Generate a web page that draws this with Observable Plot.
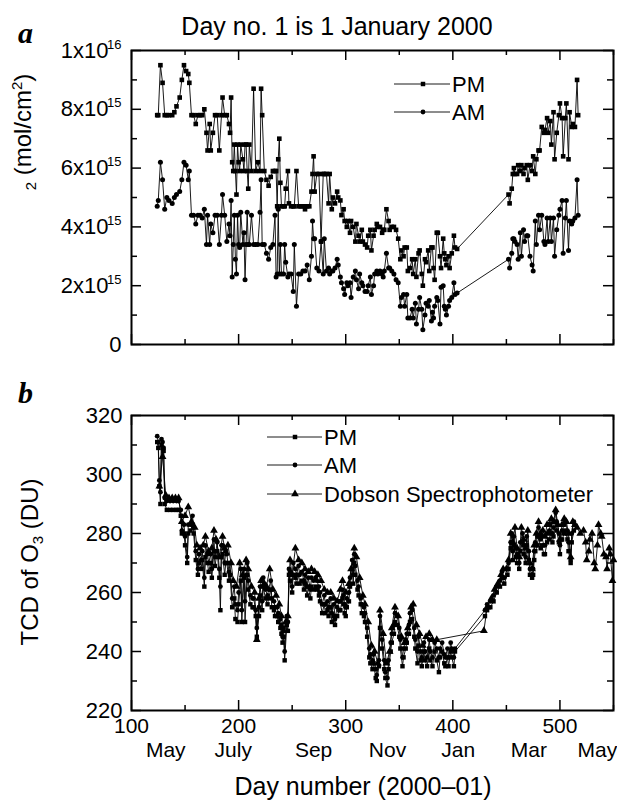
<!DOCTYPE html>
<html><head><meta charset="utf-8">
<script src="https://cdn.jsdelivr.net/npm/d3@7"></script>
<script src="https://cdn.jsdelivr.net/npm/@observablehq/plot@0.6"></script>
<style>
html,body{margin:0;padding:0;background:#fff;}
#chart{position:relative;width:617px;height:800px;overflow:hidden;background:#fff;}
#chart svg{position:absolute;left:0;}
</style></head>
<body><div id="chart"></div>
<script>
// ---------- Panel a: NO2 (units of 1e15 mol/cm2) ----------
const no2Days = [
124,125,127,129,131,133,135,138,140,142,
145,147,149,151,153,154,156,158,160,162,
164,166,168,170,171,173,174,176,178,180,
182,184,185,187,189,191,192,193,194,195,
196,197,198,199,200,201,202,204,205,206,
207,208,209,210,212,214,216,218,220,221,
222,224,226,228,230,232,234,235,236,237,
238,239,240,242,243,244,246,247,249,251,
252,254,256,258,260,262,264,266,268,269,
270,271,273,275,277,279,280,282,284,285,
287,288,290,292,293,295,296,298,299,301,
302,304,305,307,309,310,312,313,315,316,
318,320,321,323,324,326,327,329,330,332,
334,335,336,338,340,341,343,345,347,349,
351,352,354,355,357,358,360,362,363,365,
366,368,369,371,372,374,375,377,378,380,
381,382,383,385,386,388,389,391,392,393,
394,396,397,399,401,402,404,452,453,455,
456,457,458,460,461,463,464,466,467,469,
470,472,474,475,477,478,480,481,483,485,
486,488,489,491,492,494,495,497,499,500,
502,503,505,506,508,509,511,512,514,516,
517];
const no2PM = [
7.8,7.8,9.5,8.9,7.8,7.8,7.8,7.8,7.9,8.1,
8.4,9.0,9.5,9.3,9.2,8.9,7.8,7.8,7.5,7.8,
7.8,7.8,8.0,7.2,6.6,7.5,6.6,7.2,7.8,7.8,
6.6,7.8,8.4,7.8,7.8,7.5,7.2,8.4,6.2,5.9,
6.8,5.9,5.1,6.8,6.2,5.9,6.8,6.3,5.9,6.8,
6.8,5.9,5.3,6.8,5.9,8.7,5.9,6.2,5.9,8.7,
7.8,5.9,5.6,5.4,5.7,5.9,5.9,5.9,4.7,6.3,
7.0,5.5,4.7,4.7,4.7,5.3,5.9,4.8,4.7,4.7,
4.7,5.9,4.7,4.7,4.7,4.6,4.7,4.7,5.2,5.8,
6.4,5.2,5.8,5.8,3.5,5.8,5.8,5.8,4.8,5.8,
4.6,5.0,4.8,5.2,5.0,4.9,4.4,4.6,4.2,4.0,
4.2,3.8,4.2,4.0,3.5,4.1,3.7,3.5,3.9,3.5,
3.4,3.3,3.7,3.9,3.2,3.7,3.9,4.1,4.0,4.0,
3.8,3.9,3.9,4.6,4.2,3.9,4.0,4.0,3.9,3.6,
2.9,3.2,3.0,3.3,3.3,2.5,2.6,2.9,2.4,2.9,
2.3,3.1,3.2,2.4,2.0,2.9,2.8,3.2,2.5,3.3,
3.3,2.6,2.2,3.8,3.8,3.0,2.6,3.6,3.1,2.9,
2.7,3.0,2.6,3.1,3.7,3.3,3.25,5.1,4.8,5.3,
5.8,6.0,5.8,5.8,6.1,5.9,6.1,5.8,6.0,6.1,
5.6,6.1,5.9,6.4,5.8,6.3,6.6,6.6,7.4,7.2,
7.3,7.7,7.2,7.6,6.8,7.9,6.3,7.2,7.8,8.2,
7.7,6.4,7.7,8.2,6.3,7.9,7.4,7.5,7.4,9.0,
7.8];
const no2AM = [
4.7,4.9,6.2,5.6,4.6,5.0,4.9,4.8,5.0,5.1,
5.2,5.6,6.2,6.1,5.6,5.9,4.4,4.4,4.1,4.4,
4.4,4.3,4.6,3.4,4.4,3.4,4.1,3.8,4.4,4.4,
3.4,4.4,5.1,4.4,3.5,4.1,3.7,4.9,2.3,3.4,
4.4,2.9,2.4,4.4,3.4,3.3,4.5,3.4,3.8,2.2,
3.4,4.5,3.4,3.4,4.4,3.4,3.4,3.4,4.5,5.6,
3.4,3.4,3.1,2.9,3.3,3.4,4.4,2.3,2.4,4.6,
2.4,3.4,2.4,2.4,3.4,2.8,2.3,2.4,2.4,1.8,
3.4,1.3,2.4,2.4,2.5,2.5,2.7,2.2,3.0,4.2,
3.6,3.6,2.6,2.5,3.5,2.4,3.6,2.5,2.6,2.4,
2.5,2.5,2.6,2.9,2.7,2.3,2.1,1.9,1.7,2.1,
2.0,2.1,1.6,2.3,2.5,2.2,1.9,2.4,2.1,2.0,
1.8,1.8,2.0,2.3,1.7,2.0,2.4,2.5,2.4,2.5,
2.4,2.3,2.5,3.1,2.6,2.6,2.5,2.4,2.2,2.1,
1.3,1.6,1.7,1.3,1.7,0.9,0.9,1.2,0.9,1.4,
0.7,1.2,1.6,1.2,0.5,1.0,1.4,1.3,1.5,0.8,
1.1,0.9,1.3,1.6,1.5,0.7,1.95,2.0,1.3,1.2,
1.0,1.3,1.5,1.6,2.1,1.7,1.75,2.9,2.6,3.1,
3.6,3.6,3.5,3.4,2.9,3.8,3.0,3.9,3.5,3.7,
3.7,3.0,2.7,2.5,4.2,3.4,4.4,3.9,4.4,3.5,
3.4,4.3,3.5,4.3,3.5,4.3,3.0,3.9,4.4,4.6,
4.9,3.1,4.3,4.9,3.2,4.2,4.1,4.2,4.3,5.6,
4.4];

// ---------- Panel b: total column O3 (DU) ----------
const o3Days = [
124,125,126,127,128,129,130,131,133,136,
139,142,144,146,147,149,150,152,153,155,
157,158,160,162,163,165,166,168,169,171,
172,174,175,177,178,180,182,183,184,185,
187,188,189,191,192,194,196,197,199,200,
202,203,205,206,208,209,211,213,214,216,
217,219,220,222,223,225,227,228,230,231,
233,234,236,237,239,240,241,242,243,245,
246,247,248,250,251,253,254,256,257,259,
261,262,264,265,267,268,270,272,273,275,
276,278,280,281,283,284,286,287,289,290,
292,294,295,297,298,299,300,301,303,304,
306,307,308,309,311,312,314,315,317,318,
320,322,323,325,326,328,329,331,332,334,
336,337,339,340,342,343,345,346,348,350,
351,353,354,356,357,359,360,362,364,365,
367,368,370,371,373,374,376,378,379,381,
383,385,387,388,390,392,393,395,396,398,
399,401,402,430,432,435,438,441,444,446,
448,451,452,454,455,456,457,459,460,462,
463,465,466,468,469,471,472,474,475,476,
477,479,480,482,483,485,486,488,490,491,
493,494,496,497,499,500,502,504,505,507,
508,510,511,513];
const o3AM = [
313,311,298,294,312,311,309,292,291,291,
291,291,291,288,281,283,279,272,283,283,
286,282,274,268,273,271,274,265,276,273,
270,273,268,278,272,277,268,262,276,276,
270,274,273,267,270,258,262,256,254,260,
268,254,268,257,270,264,259,258,258,254,
248,255,262,257,265,261,259,261,264,258,
257,255,255,253,251,249,245,248,240,252,
250,268,267,262,270,268,266,269,266,267,
264,266,262,265,261,265,264,265,264,262,
260,256,259,256,257,255,258,253,256,251,
255,257,257,261,259,256,255,258,260,265,
271,266,273,269,264,262,258,256,255,253,
248,241,239,237,239,234,232,237,252,244,
237,233,231,237,243,246,249,253,252,248,
244,238,241,244,246,249,253,254,248,244,
240,245,240,238,243,240,238,244,240,238,
243,241,238,241,243,239,238,241,238,243,
241,238,241,254,256,257,259,262,264,267,
265,268,270,277,280,274,279,275,273,270,
277,280,276,272,279,274,268,266,268,274,
277,279,282,278,279,276,276,280,281,283,
280,282,287,284,280,276,281,283,284,281,
277,271,280,284];
const o3PM = [
311,309,296,290,310,309,308,290,288,288,
288,288,288,286,280,280,276,270,280,281,
283,280,271,266,270,268,271,262,272,270,
267,270,265,274,269,274,265,254,272,273,
266,270,270,264,266,255,258,251,250,256,
264,250,265,250,266,261,256,255,255,252,
245,252,259,254,262,258,256,258,261,255,
254,252,252,250,248,246,243,245,237,249,
247,266,264,260,266,265,263,266,263,264,
261,263,259,262,258,262,261,262,261,259,
257,253,256,253,254,252,255,250,252,249,
252,254,254,258,256,253,252,255,257,262,
268,263,270,266,261,259,256,253,252,250,
245,238,236,234,236,231,230,235,248,241,
234,231,228.5,234,240,243,246,250,249,245,
241,235,238,241,243,246,250,251,245,241,
236,242,237,235,240,237,235,241,237,235,
240,237,233,238,240,236,235,238,235,240,
238,235,240,252,254,255,257,260,262,265,
263,266,268,275,277,271,276,272,270,268,
274,277,273,270,276,271,266,265,266,271,
274,276,279,275,276,273,273,277,278,280,
277,279,284,281,277,273,278,280,281,278,
274,270,277,281];
const dobsonDays = [
126,129,132,135,138,141,144,147,150,153,
156,159,161,164,167,169,172,175,177,179,
182,185,187,190,193,195,198,201,204,207,
209,212,215,217,219,221,224,226,229,232,
235,238,240,242,244,246,248,250,253,256,
259,262,265,268,271,274,277,280,283,286,
289,292,295,297,300,303,305,308,310,313,
316,318,321,324,327,330,332,335,338,341,
343,346,349,352,355,358,361,363,366,369,
372,375,378,381,385,429,432,436,439,442,
445,447,450,452,454,456,458,460,462,464,
466,468,470,472,474,476,478,480,482,484,
486,488,490,492,494,496,498,500,502,504,
506,508,510,512,514,516,519,522,524,525,
527,528,530,532,533,535,536,538,539,541,
543,544,546,547,549,550];
const dobsonO3 = [
296,306,293,292,292,292,292,284,286,289,
284,282,276,275,276,279,274,275,281,278,
272,279,275,276,270,264,262,270,266,271,
268,262,260,244,258,264,263,262,268,261,
259,256,252,247,250,252,271,266,275,271,
270,268,267,268,267,266,264,261,260,260,
258,257,261,264,260,263,268,275,272,265,
259,256,250,242,240,236,254,246,236,240,
248,255,252,245,243,248,255,256,249,246,
242,245,246,244,244,247,255,258,261,263,
266,268,268,271,280,277,282,275,272,282,
278,275,281,270,268,276,280,284,280,281,
279,283,283,285,284,288,283,278,283,285,
284,280,272,284,283,282,280,281,277,271,
274,278,280,270,268,276,283,280,279,273,
272,268,275,273,264,271];

// ---------- ticks and labels ----------
const xMajorTicks = [100, 200, 300, 400, 500];
const xMinorTicks = [150, 250, 350, 450, 550];
const xTickLabels = ["100", "200", "300", "400", "500"];
const monthNames = ["May", "July", "Sep", "Nov", "Jan", "Mar", "May"];
const monthLabelDays = [132, 195, 270, 339, 405, 471, 535];
const no2MajorTicks = [0, 2, 4, 6, 8, 10];
const no2MinorTicks = [1, 3, 5, 7, 9];
const no2TickBases = ["0", "2x10", "4x10", "6x10", "8x10", "1x10"];
const no2TickExps = ["", "15", "15", "15", "15", "16"];
const o3MajorTicks = [220, 240, 260, 280, 300, 320];
const o3MinorTicks = [230, 250, 270, 290, 310];
const legendTop = ["PM", "AM"];
const legendBottom = ["PM", "AM", "Dobson Spectrophotometer"];

// ---------- build ----------
const FONT = '"Liberation Sans", Arial, Helvetica, sans-serif';
const W = 617, ML = 131, MR = 4;
const innerW = W - ML - MR;
const toRows = (days, vals) => days.map((d, i) => ({day: d, v: vals[i]}));

function frameTicks(yMaj, yMin, innerH) {
  const o = {stroke: "black", strokeWidth: 1.5};
  return [
    Plot.tickX(xMajorTicks, {...o, x: d => d, insetTop: innerH - 10}),
    Plot.tickX(xMajorTicks, {...o, x: d => d, insetBottom: innerH - 10}),
    Plot.tickX(xMinorTicks, {...o, x: d => d, insetTop: innerH - 5}),
    Plot.tickX(xMinorTicks, {...o, x: d => d, insetBottom: innerH - 5}),
    Plot.tickY(yMaj, {...o, y: d => d, insetRight: innerW - 10}),
    Plot.tickY(yMaj, {...o, y: d => d, insetLeft: innerW - 10}),
    Plot.tickY(yMin, {...o, y: d => d, insetRight: innerW - 6}),
    Plot.tickY(yMin, {...o, y: d => d, insetLeft: innerW - 6})
  ];
}

const pmTop = toRows(no2Days, no2PM);
const amTop = toRows(no2Days, no2AM);
const no2Ticks = no2MajorTicks.map((v, i) => ({v, base: no2TickBases[i], exp: no2TickExps[i]}));

const topH = 360, topMT = 50, topMB = 16;
const topSvg = Plot.plot({
  width: W, height: topH, marginTop: topMT, marginBottom: topMB, marginLeft: ML, marginRight: MR,
  x: {domain: [100, 550], axis: null},
  y: {domain: [0, 10], axis: null},
  style: {fontFamily: FONT, background: "white", color: "black", overflow: "visible"},
  marks: [
    Plot.line(pmTop, {x: "day", y: "v", stroke: "black", strokeWidth: 0.9}),
    Plot.line(amTop, {x: "day", y: "v", stroke: "black", strokeWidth: 0.9}),
    Plot.dot(pmTop, {x: "day", y: "v", symbol: "square", r: 2.6, fill: "black"}),
    Plot.dot(amTop, {x: "day", y: "v", symbol: "circle", r: 2.5, fill: "black"}),
    ...frameTicks(no2MajorTicks, no2MinorTicks, topH - topMT - topMB),
    Plot.frame({stroke: "black", strokeWidth: 2}),
    Plot.text(no2Ticks.filter(d => d.exp === ""), {y: "v", text: "base", frameAnchor: "left", textAnchor: "end", dx: -10, fontSize: 22, fill: "black"}),
    Plot.text(no2Ticks.filter(d => d.exp !== ""), {y: "v", text: "base", frameAnchor: "left", textAnchor: "end", dx: -23, fontSize: 22, fill: "black"}),
    Plot.text(no2Ticks.filter(d => d.exp !== ""), {y: "v", text: "exp", frameAnchor: "left", textAnchor: "end", dx: -10, dy: -6, fontSize: 13, fill: "black"})
  ]
});
topSvg.style.top = "0px";

const pmBot = toRows(o3Days, o3PM);
const amBot = toRows(o3Days, o3AM);
const dobBot = toRows(dobsonDays, dobsonO3);
const xLabels = xMajorTicks.map((d, i) => ({d, t: xTickLabels[i]}));
const months = monthNames.map((m, i) => ({d: monthLabelDays[i], m}));

const botTop = 360, botH = 440, botMT = 55, botMB = 90;
const botSvg = Plot.plot({
  width: W, height: botH, marginTop: botMT, marginBottom: botMB, marginLeft: ML, marginRight: MR,
  x: {domain: [100, 550], axis: null},
  y: {domain: [220, 320], axis: null},
  style: {fontFamily: FONT, background: "white", color: "black", overflow: "visible"},
  marks: [
    Plot.line(dobBot, {x: "day", y: "v", stroke: "black", strokeWidth: 0.9}),
    Plot.line(amBot, {x: "day", y: "v", stroke: "black", strokeWidth: 0.9}),
    Plot.line(pmBot, {x: "day", y: "v", stroke: "black", strokeWidth: 0.9}),
    Plot.dot(dobBot, {x: "day", y: "v", symbol: "triangle", r: 2.9, fill: "black"}),
    Plot.dot(amBot, {x: "day", y: "v", symbol: "circle", r: 2.4, fill: "black"}),
    Plot.dot(pmBot, {x: "day", y: "v", symbol: "square", r: 2.5, fill: "black"}),
    ...frameTicks(o3MajorTicks, o3MinorTicks, botH - botMT - botMB),
    Plot.frame({stroke: "black", strokeWidth: 2}),
    Plot.text(o3MajorTicks, {y: d => d, text: d => String(d), frameAnchor: "left", textAnchor: "end", dx: -9, fontSize: 22, fill: "black"}),
    Plot.text(xLabels, {x: "d", text: "t", frameAnchor: "bottom", dy: 22, fontSize: 21, fill: "black"}),
    Plot.text(months, {x: "d", text: "m", frameAnchor: "bottom", dy: 46, fontSize: 21, fill: "black"})
  ]
});
botSvg.style.top = botTop + "px";

const chart = document.getElementById("chart");
chart.appendChild(topSvg);
chart.appendChild(botSvg);

// ---------- annotations ----------
const ts = d3.select(topSvg), bs = d3.select(botSvg);
ts.append("text").attr("x", 337).attr("y", 35).attr("text-anchor", "middle")
  .attr("font-size", 25).attr("fill", "black").text("Day no. 1 is 1 January 2000");
ts.append("text").attr("x", 18).attr("y", 43).attr("text-anchor", "start").attr("font-family", '"Liberation Serif", "Times New Roman", serif')
  .attr("font-style", "italic").attr("font-weight", "bold").attr("font-size", 30).attr("fill", "black").text("a");
bs.append("text").attr("x", 18).attr("y", 43).attr("text-anchor", "start").attr("font-family", '"Liberation Serif", "Times New Roman", serif')
  .attr("font-style", "italic").attr("font-weight", "bold").attr("font-size", 30).attr("fill", "black").text("b");

// y label top (visible part only, as in the figure)
const yl = ts.append("text").attr("transform", "translate(31,132) rotate(-90)")
  .attr("text-anchor", "middle").attr("font-size", 24).attr("fill", "black");
yl.append("tspan").attr("font-size", 15).attr("dy", 5).text("2");
yl.append("tspan").attr("dy", -5).text(" (mol/cm");
yl.append("tspan").attr("font-size", 15).attr("dy", -9).text("2");
yl.append("tspan").attr("dy", 9).text(")");

// y label bottom
const yl2 = bs.append("text").attr("transform", `translate(38,${562 - botTop}) rotate(-90)`)
  .attr("text-anchor", "middle").attr("font-size", 24).attr("fill", "black");
yl2.append("tspan").text("TCD of O");
yl2.append("tspan").attr("font-size", 15).attr("dy", 5).text("3");
yl2.append("tspan").attr("dy", -5).text(" (DU)");

// x axis title
bs.append("text").attr("x", 363).attr("y", 795 - botTop).attr("text-anchor", "middle")
  .attr("font-size", 25).attr("fill", "black").text("Day number (2000\u201301)");

// legends
function legendItem(sel, x0, x1, xm, y, sym, size, label) {
  const g = sel.append("g");
  g.append("line").attr("x1", x0).attr("x2", x1).attr("y1", y).attr("y2", y)
    .attr("stroke", "black").attr("stroke-width", 0.9);
  g.append("path").attr("d", d3.symbol(sym, size)()).attr("transform", `translate(${xm},${y})`).attr("fill", "black");
  g.append("text").attr("x", x1 + 2).attr("y", y).attr("dy", "0.36em").attr("text-anchor", "start")
    .attr("font-size", 22).attr("fill", "black").text(label);
}
legendItem(ts, 394, 450, 423, 84, d3.symbolSquare, 20, legendTop[0]);
legendItem(ts, 394, 450, 423, 112, d3.symbolCircle, 18, legendTop[1]);
legendItem(bs, 267, 322, 295, 437 - botTop, d3.symbolSquare, 20, legendBottom[0]);
legendItem(bs, 267, 322, 295, 465 - botTop, d3.symbolCircle, 18, legendBottom[1]);
legendItem(bs, 267, 322, 295, 494 - botTop, d3.symbolTriangle, 26, legendBottom[2]);
</script>
</body></html>
